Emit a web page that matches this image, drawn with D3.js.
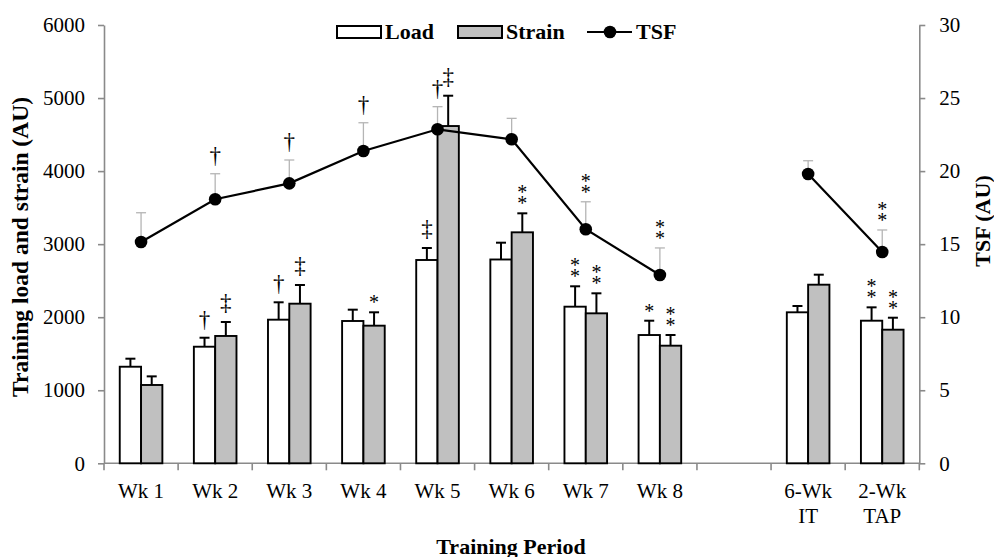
<!DOCTYPE html>
<html>
<head>
<meta charset="utf-8">
<script src="https://cdn.jsdelivr.net/npm/d3@7"></script>
<style>
  html, body { margin: 0; padding: 0; background: #fff; }
  svg { display: block; }
  text { font-family: "Liberation Serif", "Times New Roman", serif; fill: #000; }
</style>
</head>
<body>
<svg id="chart" width="994" height="557"></svg>
<script>
// ---- data ----
const categories = ["Wk 1", "Wk 2", "Wk 3", "Wk 4", "Wk 5", "Wk 6", "Wk 7", "Wk 8", "", "6-Wk\nIT", "2-Wk\nTAP"];
const load      = [1322, 1596, 1966, 1948, 2783, 2790, 2144, 1756, null, 2067, 1952];
const loadSD    = [110, 123, 238, 155, 164, 230, 279, 196, null, 86, 183];
const strain    = [1072, 1743, 2185, 1884, 4617, 3162, 2053, 1610, null, 2445, 1829];
const strainSD  = [118, 191, 256, 183, 415, 260, 274, 146, null, 137, 164];
const tsf       = [15.15, 18.07, 19.16, 21.38, 22.86, 22.18, 16.02, 12.89, null, 19.8, 14.46];
const tsfSD     = [2.0, 1.75, 1.6, 1.93, 1.55, 1.43, 1.88, 1.85, null, 0.91, 1.51];
const loadMarks   = ["", "†", "†", "", "‡", "", "**", "*", "", "", "**"];
const strainMarks = ["", "‡", "‡", "*", "‡", "**", "**", "**", "", "", "**"];
const tsfMarks    = ["", "†", "†", "†", "†", "", "**", "**", "", "", "**"];
const leftTicks  = [0, 1000, 2000, 3000, 4000, 5000, 6000];
const rightTicks = [0, 5, 10, 15, 20, 25, 30];

// ---- layout ----
const svg = d3.select("#chart");
const X0 = 104, X1 = 919.3, YT = 25, YB = 463.3;
const axisGrey = "#8a8a8a";
const tickFont = "21px", titleFont = "22px";

const x = d3.scaleBand().domain(d3.range(categories.length)).range([X0, X1]).padding(0);
const y = d3.scaleLinear().domain([0, 6000]).range([YB, YT]);
const y2 = d3.scaleLinear().domain([0, 30]).range([YB, YT]);
const bw = x.bandwidth() * 0.2875;
const cx = i => x(i) + x.bandwidth() / 2;

// ---- axes ----
const leftAxis = svg.append("g").attr("transform", `translate(${X0},0)`)
  .call(d3.axisLeft(y).tickValues(leftTicks).tickSize(6).tickSizeOuter(0).tickPadding(13).tickFormat(d3.format("d")));
const rightAxis = svg.append("g").attr("transform", `translate(${X1},0)`)
  .call(d3.axisRight(y2).tickValues(rightTicks).tickSize(6).tickSizeOuter(0).tickPadding(14).tickFormat(d3.format("d")));
[leftAxis, rightAxis].forEach(g => {
  g.selectAll("path.domain, line").attr("stroke", axisGrey).attr("stroke-width", 1.6);
  g.selectAll("text").style("font-family", '"Liberation Serif", serif').style("font-size", tickFont).attr("fill", "#000");
});

// x axis line and ticks
const xa = svg.append("g");
xa.append("line").attr("x1", X0).attr("x2", X1).attr("y1", YB).attr("y2", YB)
  .attr("stroke", axisGrey).attr("stroke-width", 1.6);
const bounds = d3.range(categories.length + 1).map(i => i < categories.length ? x(i) : X1);
xa.selectAll("line.t").data(bounds).join("line").attr("class", "t")
  .attr("x1", d => d).attr("x2", d => d).attr("y1", YB).attr("y2", YB + 7)
  .attr("stroke", axisGrey).attr("stroke-width", 1.6);
categories.forEach((c, i) => {
  if (!c) return;
  const lines = c.split("\n");
  const t = xa.append("text").attr("text-anchor", "middle").style("font-size", tickFont);
  lines.forEach((l, k) => t.append("tspan").attr("x", cx(i)).attr("y", 498 + k * 25).text(l));
});

// ---- bars ----
const idx = d3.range(categories.length).filter(i => load[i] != null);
const bars = svg.append("g");
function drawBars(vals, sds, dx, fill) {
  bars.selectAll(null).data(idx).join("rect")
    .attr("x", i => cx(i) + dx).attr("width", bw)
    .attr("y", i => y(vals[i])).attr("height", i => YB - y(vals[i]))
    .attr("fill", fill).attr("stroke", "#000").attr("stroke-width", 1.9);
  const eb = svg.append("g").attr("stroke", "#000").attr("stroke-width", 2);
  idx.forEach(i => {
    const ex = cx(i) + dx + bw / 2;
    eb.append("line").attr("x1", ex).attr("x2", ex).attr("y1", y(vals[i])).attr("y2", y(vals[i] + sds[i]));
    eb.append("line").attr("x1", ex - 5).attr("x2", ex + 5).attr("y1", y(vals[i] + sds[i])).attr("y2", y(vals[i] + sds[i]));
  });
}
drawBars(load, loadSD, -bw, "#ffffff");
drawBars(strain, strainSD, 0, "#c0c0c0");

// ---- TSF ----
const teb = svg.append("g").attr("stroke", "#b5b5b5").attr("stroke-width", 1.3);
idx.forEach(i => {
  teb.append("line").attr("x1", cx(i)).attr("x2", cx(i)).attr("y1", y2(tsf[i])).attr("y2", y2(tsf[i] + tsfSD[i]));
  teb.append("line").attr("x1", cx(i) - 5).attr("x2", cx(i) + 5).attr("y1", y2(tsf[i] + tsfSD[i])).attr("y2", y2(tsf[i] + tsfSD[i]));
});
const line = d3.line().defined(i => tsf[i] != null).x(i => cx(i)).y(i => y2(tsf[i]));
svg.append("path").datum(d3.range(categories.length)).attr("d", line)
  .attr("fill", "none").attr("stroke", "#000").attr("stroke-width", 2.2);
svg.append("g").selectAll("circle").data(idx).join("circle")
  .attr("cx", i => cx(i)).attr("cy", i => y2(tsf[i])).attr("r", 6.3).attr("fill", "#000");

// ---- significance marks ----
const mk = svg.append("g");
function mark(sym, px, top) {
  if (!sym) return;
  if (sym[0] === "*") {
    const n = sym.length;
    const t = mk.append("text").attr("text-anchor", "middle").style("font-size", "20px").attr("fill", "#222");
    for (let k = 0; k < n; k++) {
      t.append("tspan").attr("x", px).attr("y", top - 3 - (n - 1 - k) * 11).text("*");
    }
  } else {
    mk.append("text").attr("x", px).attr("y", top - (sym === "†" ? 11 : 12))
      .attr("text-anchor", "middle").style("font-size", "23px").attr("fill", "#222").text(sym);
  }
}
idx.forEach(i => {
  mark(loadMarks[i], cx(i) - bw / 2, y(load[i] + loadSD[i]));
  mark(strainMarks[i], cx(i) + bw / 2, y(strain[i] + strainSD[i]));
  mark(tsfMarks[i], cx(i), y2(tsf[i] + tsfSD[i]));
});

// ---- titles ----
svg.append("text").attr("transform", "translate(28,247) rotate(-90)").attr("text-anchor", "middle")
  .style("font-size", "23.5px").style("font-weight", "bold").text("Training load and strain (AU)");
svg.append("text").attr("transform", "translate(990,221) rotate(-90)").attr("text-anchor", "middle")
  .style("font-size", titleFont).style("font-weight", "bold").text("TSF (AU)");
svg.append("text").attr("x", 511).attr("y", 554).attr("text-anchor", "middle")
  .style("font-size", titleFont).style("font-weight", "bold").text("Training Period");

// ---- legend ----
const lg = svg.append("g");
lg.append("rect").attr("x", 337).attr("y", 26).attr("width", 44).attr("height", 12)
  .attr("fill", "#fff").attr("stroke", "#000").attr("stroke-width", 2);
lg.append("text").attr("x", 385).attr("y", 39).style("font-size", titleFont).style("font-weight", "bold").text("Load");
lg.append("rect").attr("x", 458).attr("y", 26).attr("width", 44).attr("height", 12)
  .attr("fill", "#c0c0c0").attr("stroke", "#000").attr("stroke-width", 2);
lg.append("text").attr("x", 506).attr("y", 39).style("font-size", titleFont).style("font-weight", "bold").text("Strain");
lg.append("line").attr("x1", 587).attr("x2", 632).attr("y1", 32).attr("y2", 32).attr("stroke", "#000").attr("stroke-width", 2.2);
lg.append("circle").attr("cx", 610).attr("cy", 32).attr("r", 6.3).attr("fill", "#000");
lg.append("text").attr("x", 636).attr("y", 39).style("font-size", titleFont).style("font-weight", "bold").text("TSF");
</script>
</body>
</html>
